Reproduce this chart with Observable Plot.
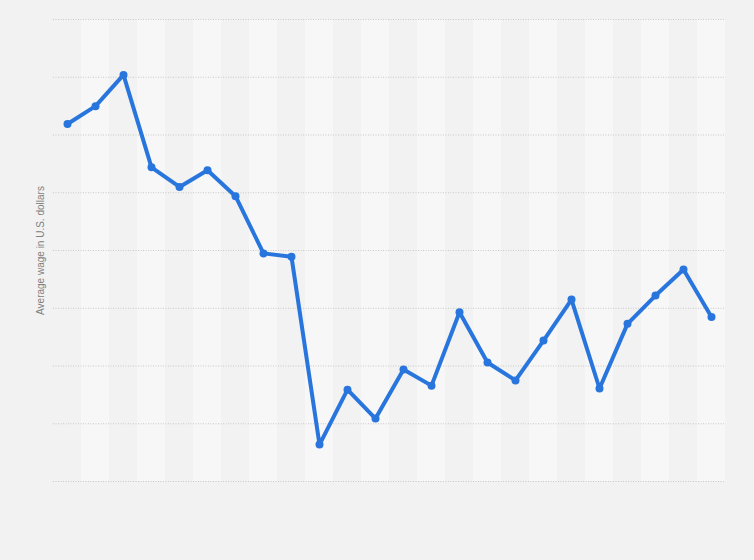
<!DOCTYPE html>
<html>
<head>
<meta charset="utf-8">
<script src="https://cdn.jsdelivr.net/npm/d3@7"></script>
<script src="https://cdn.jsdelivr.net/npm/@observablehq/plot@0.6"></script>
<style>
  html, body { margin: 0; padding: 0; background: #f2f2f2; }
  #chart svg { display: block; background: transparent; }
</style>
</head>
<body>
<div id="chart"></div>
<script>
const years = [1997,1998,1999,2000,2001,2002,2003,2004,2005,2006,2007,2008,
               2009,2010,2011,2012,2013,2014,2015,2016,2017,2018,2019,2020];
const wages = [6.19,6.50,7.04,5.44,5.10,5.39,4.94,3.95,3.89,0.64,1.59,1.09,
               1.94,1.66,2.93,2.06,1.75,2.44,3.15,1.61,2.73,3.22,3.67,2.85];
const gridTicks = [0,1,2,3,4,5,6,7,8];
const yLabel = "Average wage in U.S. dollars";

const data = years.map((y, i) => ({year: String(y), wage: wages[i], odd: i % 2 === 1}));

const chart = Plot.plot({
  width: 754,
  height: 560,
  marginLeft: 53,
  marginRight: 29,
  marginTop: 19,
  marginBottom: 79,
  style: {background: "transparent", fontFamily: "Liberation Sans, Arial, sans-serif"},
  x: {type: "band", domain: data.map(d => d.year), padding: 0, axis: null},
  y: {domain: [0, 8], axis: null},
  marks: [
    Plot.cell(data.filter(d => d.odd), {x: "year", fill: "#f7f7f7", inset: 0}),
    Plot.cell(data.filter(d => !d.odd), {x: "year", fill: "#f2f2f2", inset: 0}),
    Plot.ruleY(gridTicks, {stroke: "#c8c8c8", strokeWidth: 1, strokeDasharray: "1,1.5"}),
    Plot.line(data, {x: "year", y: "wage", stroke: "#2876dd", strokeWidth: 4, strokeLinejoin: "round", strokeLinecap: "round"}),
    Plot.dot(data, {x: "year", y: "wage", r: 4, fill: "#2876dd", stroke: "none"}),
    Plot.text([yLabel], {frameAnchor: "left", dx: -13, rotate: -90, textAnchor: "middle", fill: "#808080", fontSize: 10})
  ]
});
document.getElementById("chart").appendChild(chart);
</script>
</body>
</html>
